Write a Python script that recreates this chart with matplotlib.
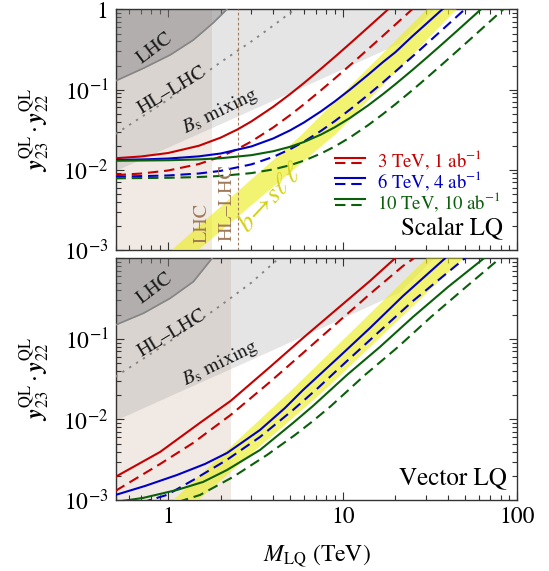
import matplotlib
matplotlib.use('Agg')
import matplotlib.pyplot as plt
from matplotlib.ticker import LogLocator, NullFormatter, FixedLocator, FixedFormatter

plt.rcParams['font.family'] = ['STIXGeneral', 'DejaVu Serif']
plt.rcParams['mathtext.fontset'] = 'stix'

# ---------------- data ----------------
# Scalar LQ (top panel)
s_red_solid_M = [0.5, 0.7, 1, 1.5, 2, 2.5, 3, 4, 5, 6, 7.5, 9, 11, 14, 17, 20]
s_red_solid_y = [0.01395, 0.01467, 0.0162, 0.01995, 0.0252, 0.03195, 0.0402, 0.0612, 0.0882,
                 0.1212, 0.182, 0.2562, 0.3762, 0.6012, 0.8802, 1.2132]
s_red_dash_M = [0.5, 0.7, 1, 1.5, 2, 2.5, 3, 4, 5, 6, 7.5, 9, 11, 14, 17, 20, 25]
s_red_dash_y = [0.0086, 0.00898, 0.0098, 0.0118, 0.0146, 0.0182, 0.0226, 0.0338, 0.0482, 0.0658,
                0.0982, 0.1378, 0.2018, 0.3218, 0.4706, 0.6482, 1.0082]
s_blue_solid_M = [0.5, 0.7, 1, 1.5, 2, 3, 4, 5, 6, 7.5, 9, 11, 14, 17, 20, 25, 30, 35, 40]
s_blue_solid_y = [0.01328, 0.01345, 0.01382, 0.01472, 0.01598, 0.01958, 0.02462, 0.0311, 0.03902,
                  0.0536, 0.07142, 0.1002, 0.1542, 0.2212, 0.2931, 0.4631, 0.6611, 0.8951, 1.165]
s_blue_dash_M = [0.5, 1, 1.5, 2, 3, 4, 5, 6, 7.5, 9, 11, 14, 17, 20, 25, 30, 35, 40, 45, 50]
s_blue_dash_y = [0.0082, 0.0085, 0.009, 0.0097, 0.0117, 0.0145, 0.0181, 0.0225, 0.0306, 0.0405,
                 0.0565, 0.0865, 0.1237, 0.1681, 0.2581, 0.3681, 0.4981, 0.6481, 0.8181, 1.0081]
s_green_solid_M = [0.5, 1, 1.5, 2, 3, 4, 5, 6, 7.5, 9, 11, 14, 17, 20, 25, 30, 37, 45, 53, 62]
s_green_solid_y = [0.01297, 0.01316, 0.01349, 0.01394, 0.01524, 0.01706, 0.0194, 0.02226, 0.02753,
                   0.03396, 0.04436, 0.06386, 0.08804, 0.1169, 0.1754, 0.2469, 0.3688, 0.5394,
                   0.7433, 1.012]
s_green_dash_M = [0.5, 1, 1.5, 2, 3, 4, 5, 6, 7.5, 9, 11, 14, 17, 20, 25, 30, 37, 45, 52, 60, 70, 83]
s_green_dash_y = [0.00784, 0.00795, 0.00813, 0.00838, 0.0091, 0.01012, 0.01143, 0.01302, 0.01596,
                  0.01955, 0.02535, 0.03622, 0.04971, 0.0658, 0.0984, 0.1383, 0.2063, 0.3014,
                  0.3999, 0.5298, 0.7183, 1.007]

# Vector LQ (bottom panel)
v_red_solid_M = [0.5, 0.9, 1.52, 2.28, 3.83, 5.92, 9.27, 14.3, 19.9]
v_red_solid_y = [0.00194, 0.00395, 0.00906, 0.0170, 0.0448, 0.1026, 0.235, 0.523, 1.0]
v_red_dash_M = [0.5, 0.9, 1.39, 2.28, 3.83, 5.92, 9.26, 14.3, 22.1, 25.5]
v_red_dash_y = [0.0013, 0.0028, 0.00511, 0.01137, 0.0292, 0.0668, 0.1574, 0.3606, 0.8025, 1.0]
v_blue_solid_M = [0.5, 0.739, 1.126, 1.628, 2.176, 3.36, 4.67, 5.92, 9.64, 14.31, 22.1, 38.5]
v_blue_solid_y = [0.001156, 0.001496, 0.002048, 0.002805, 0.00384, 0.00741, 0.0139, 0.0232,
                  0.0614, 0.1365, 0.3405, 1.0]
v_blue_dash_M = [0.70, 0.789, 0.983, 1.395, 2.167, 3.36, 5.19, 7.21, 10.57, 16.3, 25.2, 50.0]
v_blue_dash_y = [0.00092, 0.001, 0.001156, 0.001775, 0.003144, 0.006067, 0.01312, 0.0246,
                 0.0532, 0.1253, 0.2952, 1.0]
v_green_solid_M = [0.5, 0.719, 1.126, 1.586, 2.176, 3.36, 5.19, 6.75, 10.57, 16.3, 25.2, 40.0, 64.2]
v_green_solid_y = [0.000947, 0.001062, 0.001334, 0.001677, 0.002362, 0.004184, 0.00905, 0.0147,
                   0.0357, 0.0793, 0.187, 0.4406, 1.0]
v_green_dash_M = [1.141, 1.524, 2.355, 3.685, 5.33, 6.75, 8.56, 13.4, 20.7, 31.96, 50.7, 79.3]
v_green_dash_y = [0.000947, 0.001156, 0.001935, 0.003627, 0.006423, 0.00958, 0.0147, 0.0357,
                  0.0793, 0.187, 0.4406, 1.0]

# LHC (solid gray) bounds
s_lhc_M = [0.5, 0.722, 1.027, 1.395, 1.816, 2.167]
s_lhc_y = [0.1284, 0.1849, 0.2709, 0.4166, 0.6844, 1.0]
v_lhc_M = [0.5, 0.722, 1.027, 1.395, 1.785]
v_lhc_y = [0.1488, 0.208, 0.319, 0.513, 1.0]
# HL-LHC (dotted gray) projections
s_hllhc_M = [0.5, 1.0, 2.0, 3.0, 4.0, 5.3]
s_hllhc_y = [0.028, 0.075, 0.22, 0.40, 0.63, 1.0]
v_hllhc_M = [0.5, 1.0, 2.0, 3.0, 4.3]
v_hllhc_y = [0.034, 0.09, 0.26, 0.50, 1.0]
# Bs mixing boundary
bs_M = [0.5, 4.0, 21.0, 33.0]
bs_y = [0.0098, 0.074, 0.38, 1.0]
# direct LQ pair-production mass bounds (TeV)
s_lhc_mass, s_hllhc_mass = 1.78, 2.5
v_lhc_mass = 2.28
# b -> s l l band (left edge, right edge)
s_bsll_left_M = [1.05, 5.8, 30.2]
s_bsll_left_y = [1e-3, 0.0272, 1.0]
s_bsll_right_M = [1.49, 9.0, 44.8]
s_bsll_right_y = [1e-3, 0.0272, 1.0]
v_bsll_left_M = [1.07, 5.1, 30.2]
v_bsll_left_y = [1e-3, 0.0232, 1.0]
v_bsll_right_M = [1.49, 7.91, 48.9]
v_bsll_right_y = [1e-3, 0.0232, 1.0]

legend_labels = [r'3 TeV, 1 ab$^{-1}$', r'6 TeV, 4 ab$^{-1}$', r'10 TeV, 10 ab$^{-1}$']
xticks = [1, 10, 100]
xticklabels = ['1', '10', '100']
yticks = [1e-3, 1e-2, 1e-1, 1]
yticklabels = [r'$10^{-3}$', r'$10^{-2}$', r'$10^{-1}$', '1']

RED, BLUE, GREEN = '#C40000', '#0000C4', '#0A5F0A'
BEIGE = '#F1E9E4'
BROWN = '#A07A5A'
YEL = (0.93, 0.93, 0.15)

fig = plt.figure(figsize=(5.49, 5.71), dpi=100)
ax1 = fig.add_axes([0.2104, 0.5622, 0.7322, 0.4212])
ax2 = fig.add_axes([0.2104, 0.1243, 0.7322, 0.4233])

def setup(ax, show_x, ylabs):
    ax.set_xscale('log')
    ax.set_yscale('log')
    ax.set_xlim(0.5, 100)
    ax.set_ylim(1e-3, 1)
    ax.xaxis.set_major_locator(FixedLocator(xticks))
    ax.xaxis.set_minor_locator(LogLocator(base=10, subs=range(2, 10)))
    ax.xaxis.set_minor_formatter(NullFormatter())
    ax.yaxis.set_major_locator(FixedLocator(yticks))
    ax.yaxis.set_minor_locator(LogLocator(base=10, subs=range(2, 10)))
    ax.yaxis.set_minor_formatter(NullFormatter())
    if show_x:
        ax.xaxis.set_major_formatter(FixedFormatter(xticklabels))
    else:
        ax.xaxis.set_major_formatter(NullFormatter())
    ax.yaxis.set_major_formatter(FixedFormatter(ylabs))
    ax.tick_params(which='both', direction='in', top=True, right=True, labelsize=17,
                   color='#333333', width=0.8)
    ax.tick_params(which='major', length=6)
    ax.tick_params(which='minor', length=3.5)
    ax.tick_params(axis='y', pad=5)
    ax.tick_params(axis='x', pad=5)
    for sp in ax.spines.values():
        sp.set_linewidth(1.0)
        sp.set_color('#333333')

def panel(ax, lhc_mass, lhcM, lhcy, hlM, hly, bl_M, bl_y, br_M, br_y, curves):
    ax.axvspan(0.5, lhc_mass, color=BEIGE, lw=0, zorder=0)
    ax.fill_between(bs_M, bs_y, 1.0, color=(0.6, 0.6, 0.6), alpha=0.25, lw=0, zorder=1)
    ax.fill_between(lhcM, lhcy, 1.0, color=(0.52, 0.52, 0.52), alpha=0.47, lw=0, zorder=2)
    ax.plot(lhcM, lhcy, color='#858585', lw=1.2, zorder=3)
    ax.plot(hlM, hly, color='#858585', lw=1.4, ls=(0, (1.2, 3.0)), zorder=3)
    px = list(bl_M) + list(br_M)[::-1]
    py = list(bl_y) + list(br_y)[::-1]
    ax.fill(px, py, color=YEL, alpha=0.65, lw=0, zorder=4)
    for (M, y, c, ls) in curves:
        ax.plot(M, y, color=c, lw=1.5, ls=ls, zorder=5)

DASH = (0, (5, 2.8))
setup(ax1, False, yticklabels)
setup(ax2, True, yticklabels[:3] + [''])

panel(ax1, s_lhc_mass, s_lhc_M, s_lhc_y, s_hllhc_M, s_hllhc_y,
      s_bsll_left_M, s_bsll_left_y, s_bsll_right_M, s_bsll_right_y,
      [(s_red_solid_M, s_red_solid_y, RED, '-'), (s_red_dash_M, s_red_dash_y, RED, DASH),
       (s_blue_solid_M, s_blue_solid_y, BLUE, '-'), (s_blue_dash_M, s_blue_dash_y, BLUE, DASH),
       (s_green_solid_M, s_green_solid_y, GREEN, '-'), (s_green_dash_M, s_green_dash_y, GREEN, DASH)])
ax1.axvline(s_hllhc_mass, color=BROWN, lw=0.8, ls=(0, (2.5, 2)), zorder=4)

panel(ax2, v_lhc_mass, v_lhc_M, v_lhc_y, v_hllhc_M, v_hllhc_y,
      v_bsll_left_M, v_bsll_left_y, v_bsll_right_M, v_bsll_right_y,
      [(v_red_solid_M, v_red_solid_y, RED, '-'), (v_red_dash_M, v_red_dash_y, RED, DASH),
       (v_blue_solid_M, v_blue_solid_y, BLUE, '-'), (v_blue_dash_M, v_blue_dash_y, BLUE, DASH),
       (v_green_solid_M, v_green_solid_y, GREEN, '-'), (v_green_dash_M, v_green_dash_y, GREEN, DASH)])

# region labels
TXT = '#1A1A1A'
for ax, pos in ((ax1, [(0.098, 0.838), (0.14, 0.665), (0.26, 0.575)]),
                (ax2, [(0.098, 0.876), (0.141, 0.69), (0.26, 0.566)])):
    ax.text(*pos[0], 'LHC', transform=ax.transAxes, rotation=37, fontsize=14.5,
            color=TXT, ha='center', va='center', zorder=6)
    ax.text(*pos[1], 'HL–LHC', transform=ax.transAxes, rotation=31, fontsize=14.5,
            color=TXT, ha='center', va='center', zorder=6)
    ax.text(*pos[2], r'$B_{\mathrm{s}}$ mixing', transform=ax.transAxes, rotation=26,
            fontsize=14.5, color=TXT, ha='center', va='center', zorder=6)

ax1.text(0.216, 0.111, 'LHC', transform=ax1.transAxes, rotation=90, fontsize=14.5,
         color=BROWN, ha='center', va='center', zorder=6)
ax1.text(0.278, 0.198, 'HL–LHC', transform=ax1.transAxes, rotation=90, fontsize=14.5,
         color=BROWN, ha='center', va='center', zorder=6)
ax1.text(0.389, 0.215, r'$b\!\rightarrow\! s\ell\ell$', transform=ax1.transAxes, rotation=47,
         fontsize=20, color='#D2D214', ha='center', va='center', zorder=6)

ax1.text(0.964, 0.09, 'Scalar LQ', transform=ax1.transAxes, fontsize=18,
         ha='right', va='center', zorder=6)
ax2.text(0.973, 0.09, 'Vector LQ', transform=ax2.transAxes, fontsize=18,
         ha='right', va='center', zorder=6)

# legend (solid + dashed samples)
for i, (lab, c) in enumerate(zip(legend_labels, [RED, BLUE, GREEN])):
    yc = 0.372 - i * 0.086
    ax1.plot([0.546, 0.62], [yc + 0.012, yc + 0.012], transform=ax1.transAxes,
             color=c, lw=1.5, zorder=7)
    ax1.plot([0.546, 0.62], [yc - 0.012, yc - 0.012], transform=ax1.transAxes,
             color=c, lw=1.5, ls=(0, (5, 2.8)), zorder=7)
    ax1.text(0.65, yc, lab, transform=ax1.transAxes, fontsize=13.5, color=c,
             ha='left', va='center', zorder=7)

ylab = r'$\mathbfit{y}^{\mathrm{QL}}_{23}\cdot\mathbfit{y}^{\mathrm{QL}}_{22}$'
fig.text(0.063, 0.772, ylab, rotation=90, fontsize=17, ha='center', va='center')
fig.text(0.063, 0.336, ylab, rotation=90, fontsize=17, ha='center', va='center')
fig.text(0.5765, 0.026, r'$M_{\mathrm{LQ}}$ (TeV)', fontsize=17, ha='center', va='center')

fig.savefig('out.png', dpi=100)
